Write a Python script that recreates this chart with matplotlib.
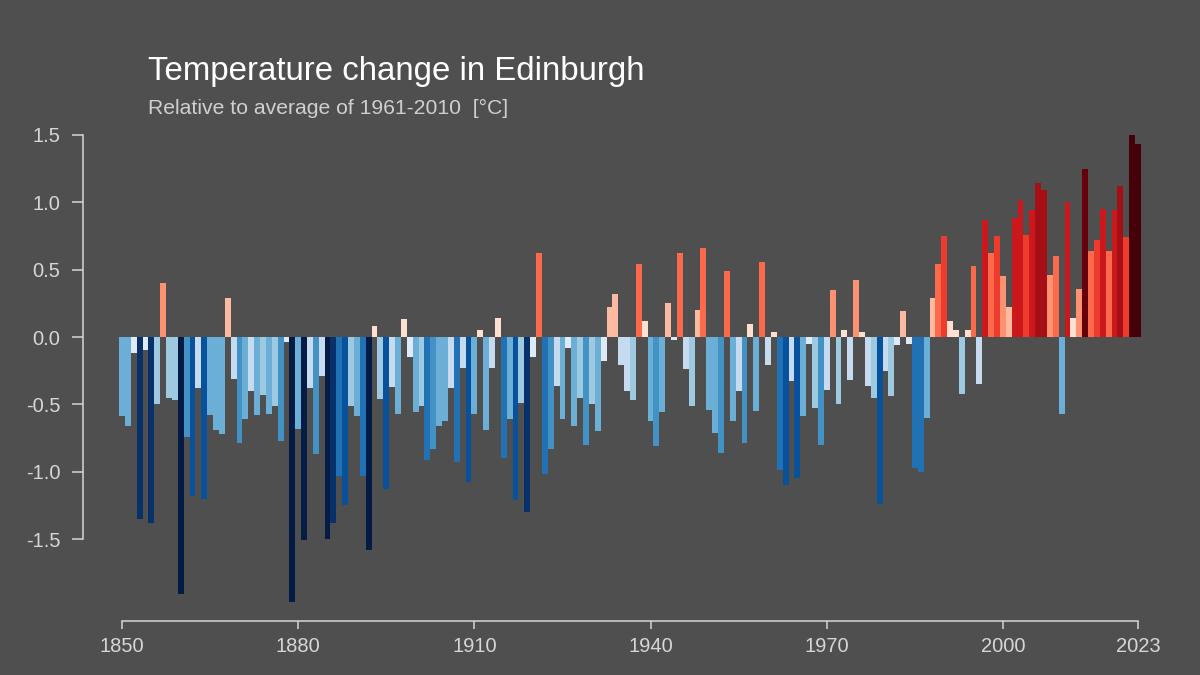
import numpy as np
import matplotlib
matplotlib.use("Agg")
import matplotlib.pyplot as plt
from matplotlib.colors import ListedColormap, BoundaryNorm

plt.rcParams['font.family'] = ['Liberation Sans', 'DejaVu Sans']

# annual anomaly relative to 1961-2010 mean, 1850..2023
years = np.arange(1850, 2024)
anomaly = [
    # 1850-1878
    -0.59, -0.66, -0.12, -1.35, -0.10, -1.38, -0.50, 0.40, -0.45, -0.47,
    -1.91, -0.74, -1.18, -0.38, -1.20, -0.58, -0.69, -0.72, 0.29, -0.31,
    -0.79, -0.61, -0.40, -0.58, -0.43, -0.57, -0.51, -0.77, -0.04,
    # 1879-1907
    -1.97, -0.68, -1.51, -0.38, -0.87, -0.29, -1.50, -1.38, -1.03, -1.25,
    -0.51, -0.59, -1.03, -1.58, 0.08, -0.46, -1.13, -0.37, -0.57, 0.13,
    -0.15, -0.56, -0.51, -0.91, -0.83, -0.66, -0.62, -0.38, -0.93,
    # 1908-1937
    -0.23, -1.08, -0.57, 0.05, -0.69, -0.23, 0.14, -0.90, -0.61, -1.21,
    -0.49, -1.30, -0.15, 0.62, -1.02, -0.83, -0.36, -0.61, -0.08, -0.66,
    -0.45, -0.80, -0.50, -0.70, -0.18, 0.22, 0.32, -0.21, -0.40, -0.47,
    # 1938-1967
    0.54, 0.12, -0.62, -0.81, -0.56, 0.25, -0.02, 0.62, -0.24, -0.51,
    0.20, 0.66, -0.54, -0.71, -0.86, 0.49, -0.62, -0.40, -0.79, 0.10,
    -0.55, 0.56, -0.21, 0.04, -0.99, -1.10, -0.33, -1.05, -0.59, -0.05,
    # 1968-1996
    -0.53, -0.80, -0.39, 0.35, -0.50, 0.05, -0.32, 0.42, 0.04, -0.36,
    -0.45, -1.24, -0.25, -0.44, -0.06, 0.19, -0.05, -0.97, -1.00, -0.60,
    0.29, 0.54, 0.75, 0.12, 0.05, -0.42, 0.05, 0.53, -0.35,
    # 1997-2023
    0.87, 0.62, 0.75, 0.45, 0.22, 0.88, 1.02, 0.76, 0.94, 1.14,
    1.09, 0.46, 0.60, -0.57, 1.00, 0.14, 0.36, 1.25, 0.64, 0.72,
    0.95, 0.64, 0.94, 1.12, 0.74, 1.50, 1.43,
]
anomaly = np.array(anomaly)

stripe_colors = ['#041c45', '#08306b', '#08519c', '#2171b5', '#4292c6', '#6baed6',
                 '#9ecae1', '#c6dbef', '#deebf7',
                 '#fee0d2', '#fcbba1', '#fc9272', '#fb6a4a', '#ef3b2c', '#cb181d',
                 '#a50f15', '#67000d', '#45000a']
bounds = [-3, -1.45, -1.28, -1.04, -0.89, -0.73, -0.53, -0.40, -0.18, 0,
          0.15, 0.33, 0.47, 0.67, 0.82, 1.05, 1.2, 1.35, 3]

xticks = [1850, 1880, 1910, 1940, 1970, 2000, 2023]
yticks = [-1.5, -1.0, -0.5, 0.0, 0.5, 1.0, 1.5]

bg = '#4f4f4f'
fg = '#d6d6d6'

fig = plt.figure(figsize=(12, 6.75), dpi=100, facecolor=bg)
ax = fig.add_axes([100 / 1200, 1 - 620.7 / 675, 1060 / 1200, 500.7 / 675])
ax.set_facecolor(bg)

cmap = ListedColormap(stripe_colors)
norm = BoundaryNorm(bounds, cmap.N)
ax.bar(years, anomaly, width=1.0, color=cmap(norm(anomaly)), linewidth=0)

ax.set_xlim(1846.25, 2026.75)
ax.set_ylim(-2.106, 1.611)

for s in ['top', 'right']:
    ax.spines[s].set_visible(False)
ax.spines['left'].set_position(('outward', 12.2))
ax.spines['left'].set_bounds(-1.5, 1.5)
ax.spines['bottom'].set_bounds(1850, 2023)
for s in ['left', 'bottom']:
    ax.spines[s].set_color(fg)
    ax.spines[s].set_linewidth(1.1)

ax.set_xticks(xticks)
ax.set_xticklabels([str(y) for y in xticks])
ax.set_yticks(yticks)
ax.set_yticklabels([f"{v:.1f}" for v in yticks])
ax.tick_params(axis='y', length=8, width=1.1, color=fg, labelcolor=fg,
               labelsize=14.5, pad=8.5)
ax.tick_params(axis='x', length=6, width=1.1, color=fg, labelcolor=fg,
               labelsize=14.5, pad=6)

fig.text(148 / 1200, 1 - 80 / 675, "Temperature change in Edinburgh",
         color='white', fontsize=23.8, va='baseline', ha='left')
fig.text(148 / 1200, 1 - 114.5 / 675, "Relative to average of 1961-2010  [°C]",
         color='#cfcfcf', fontsize=15.2, va='baseline', ha='left')

fig.savefig("out.png", dpi=100, facecolor=bg)
